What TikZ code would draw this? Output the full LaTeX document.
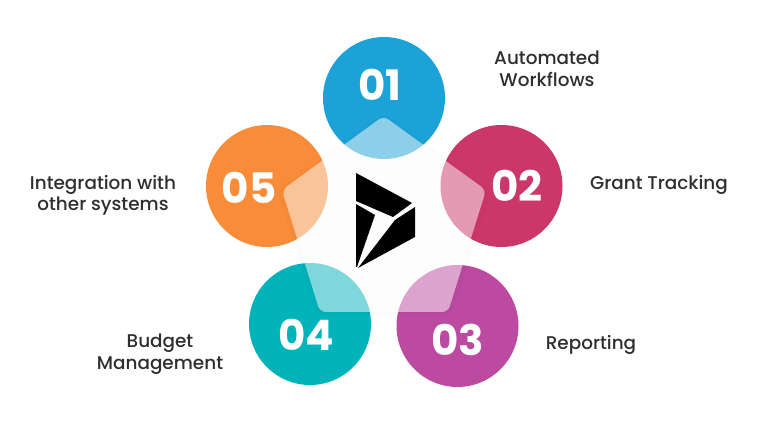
\documentclass[tikz,border=0pt]{standalone}
\usepackage{fontspec}
\setmainfont{Poppins}
\newfontfamily\labfont{Poppins Medium}
\usepackage{tikz}
\definecolor{blueA}{HTML}{1DA2D8}
\definecolor{redB}{HTML}{CB3768}
\definecolor{purpleC}{HTML}{BB4AA0}
\definecolor{tealD}{HTML}{02B3BA}
\definecolor{orangeE}{HTML}{F98C38}
\definecolor{labelgray}{HTML}{2E2E2E}
\tikzset{
  disc/.style={circle,minimum size=122pt,inner sep=0pt},
  num/.style={inner sep=0pt,text=white,font=\fontsize{42}{42}\selectfont\bfseries},
  lab/.style={align=center,text=labelgray,inner sep=0pt,font=\fontsize{18.4}{21.5}\selectfont\labfont}
}
\begin{document}
\begin{tikzpicture}[x=1pt,y=-1pt]
\useasboundingbox (0,0) rectangle (768,427);
\node [disc,fill=blueA] (disc1) at (384,98) {};
\node [disc,fill=redB] (disc2) at (501.5,186) {};
\node [disc,fill=purpleC] (disc3) at (457.5,326) {};
\node [disc,fill=tealD] (disc4) at (310,324) {};
\node [disc,fill=orangeE] (disc5) at (267,186) {};
% veil over the discs
\fill [black,opacity=0.015,rounded corners=8pt] (384,113) -- (491,190) -- (452,315) -- (316,315) -- (277,190) -- cycle;
\fill [white,opacity=0.5,rounded corners=6pt] (383.5,116) -- (486,190) -- (448,312) -- (320,312) -- (282,190) -- cycle;
\node [num] (num1) at (380,85) {01};
\node [num] (num2) at (517,186) {02};
\node [num] (num3) at (458,340) {03};
\node [num] (num4) at (306,335) {04};
\node [num] (num5) at (249,188) {05};
% logo
\fill [black] (356,173) -- (412,203) -- (393,217) -- (356,201) -- cycle;
\fill [black] (356,204) -- (375,215) -- (357,267) -- (356,267) -- cycle;
\fill [black] (415,207) -- (415,237) -- (358,268) -- (395,220) -- cycle;
\node [lab] (lab1) at (547,69) {Automated\\Workflows};
\node [lab] (lab2) at (659,184.5) {Grant Tracking};
\node [lab] (lab3) at (591,344.5) {Reporting};
\node [lab] (lab4) at (160,354) {Budget\\Management};
\node [lab] (lab5) at (103,195.5) {Integration with\\other systems};
\end{tikzpicture}
\end{document}
